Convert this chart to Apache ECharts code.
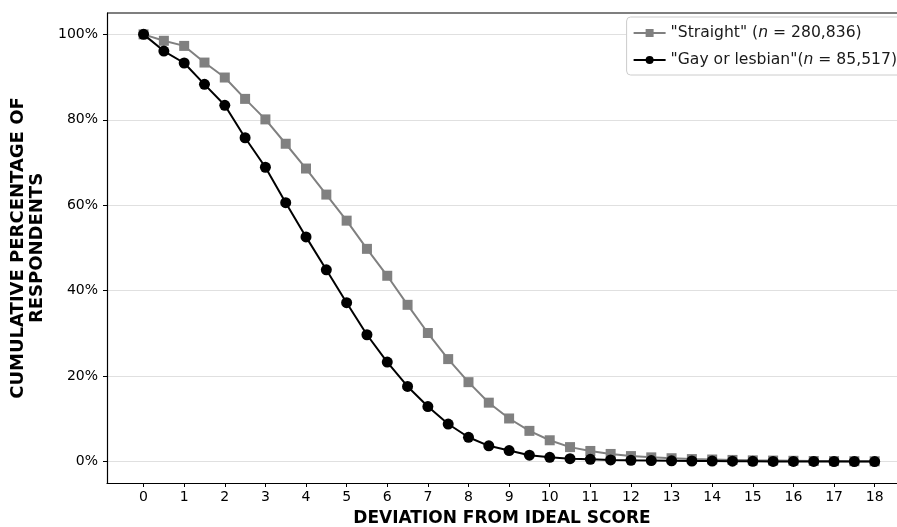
<!DOCTYPE html>
<html>
<head>
<meta charset="utf-8">
<script src="https://cdn.jsdelivr.net/npm/echarts@6/dist/echarts.min.js"></script>
<style>
  html, body { margin: 0; padding: 0; background: #fff; }
  #chart { width: 897px; height: 527px; }
</style>
</head>
<body>
<div id="chart"></div>
<script>
// deviation scores 0..18 in half steps
var scores = [0, 0.5, 1, 1.5, 2, 2.5, 3, 3.5, 4, 4.5, 5, 5.5, 6, 6.5, 7, 7.5, 8, 8.5, 9,
  9.5, 10, 10.5, 11, 11.5, 12, 12.5, 13, 13.5, 14, 14.5, 15, 15.5, 16, 16.5, 17, 17.5, 18];

// cumulative % of respondents
var straight = [100, 98.5, 97.3, 93.4, 89.9, 84.9, 80.1, 74.4, 68.6, 62.5, 56.4, 49.8, 43.5,
  36.7, 30.1, 24.0, 18.6, 13.8, 10.1, 7.2, 5.0, 3.4, 2.5, 1.8, 1.3, 1.0, 0.8, 0.6, 0.5,
  0.4, 0.3, 0.25, 0.2, 0.15, 0.12, 0.1, 0.08];
var gay = [100, 96.1, 93.3, 88.3, 83.4, 75.8, 68.9, 60.6, 52.6, 44.9, 37.2, 29.7, 23.3,
  17.6, 12.9, 8.8, 5.7, 3.7, 2.6, 1.5, 1.0, 0.7, 0.55, 0.4, 0.3, 0.25, 0.2, 0.15, 0.12,
  0.1, 0.08, 0.06, 0.05, 0.04, 0.03, 0.03, 0.02];

var xTicks = [0, 1, 2, 3, 4, 5, 6, 7, 8, 9, 10, 11, 12, 13, 14, 15, 16, 17, 18];
var yTicks = [0, 20, 40, 60, 80, 100];

var seriesNames = ['straight', 'gay'];
var legendText = {
  straight: '{t|"Straight" (}{i|n}{t| = 280,836)}',
  gay: '{t|"Gay or lesbian"(}{i|n}{t| = 85,517)}'
};

function pairs(vals) {
  return scores.map(function (s, i) { return [s, vals[i]]; });
}

var chart = echarts.init(document.getElementById('chart'));

var font = 'DejaVu Sans';

var option = {
  animation: false,
  grid: {
    left: 107,
    right: 0,
    top: 13,
    bottom: 44,
    outerBoundsMode: 'none',
    containLabel: false
  },
  legend: {
    right: -8,
    top: 17,
    orient: 'vertical',
    itemWidth: 32,
    itemHeight: 10,
    itemGap: 11,
    padding: [8, 8, 7, 6],
    backgroundColor: '#fff',
    borderColor: '#ccc',
    borderWidth: 1,
    borderRadius: 4,
    formatter: function (name) { return legendText[name]; },
    textStyle: {
      rich: {
        t: { fontFamily: font, fontSize: 15.6, color: '#1a1a1a' },
        i: { fontFamily: font, fontSize: 15.6, fontStyle: 'italic', color: '#1a1a1a' }
      }
    },
    data: seriesNames
  },
  xAxis: {
    type: 'value',
    min: -0.9,
    max: 18.55,
    name: 'DEVIATION FROM IDEAL SCORE',
    nameLocation: 'middle',
    nameGap: 27,
    nameTextStyle: { fontFamily: font, fontWeight: 'bold', fontSize: 17, color: '#000' },
    axisLine: { show: true, onZero: false, lineStyle: { color: '#000', width: 1.2 } },
    axisTick: { show: true, customValues: xTicks, length: 4, lineStyle: { color: '#000' } },
    axisLabel: { customValues: xTicks, fontFamily: font, fontSize: 14, color: '#000', margin: 7 },
    splitLine: { show: false }
  },
  yAxis: {
    type: 'value',
    min: -5,
    max: 105,
    name: 'CUMULATIVE PERCENTAGE OF\nRESPONDENTS',
    nameLocation: 'middle',
    nameGap: 55,
    nameTextStyle: { fontFamily: font, fontWeight: 'bold', fontSize: 18, color: '#000', lineHeight: 19 },
    axisLine: { show: true, onZero: false, lineStyle: { color: '#000', width: 1.2 } },
    axisTick: { show: true, customValues: yTicks, length: 4, lineStyle: { color: '#000' } },
    axisLabel: {
      customValues: yTicks,
      fontFamily: font, fontSize: 14, color: '#000', margin: 9,
      formatter: function (v) { return v + '%'; }
    },
    splitLine: { show: true, lineStyle: { color: '#e0e0e0', width: 1 } }
  },
  series: [
    {
      name: 'straight',
      type: 'line',
      data: pairs(straight),
      symbol: 'rect',
      symbolSize: 10,
      color: '#808080',
      lineStyle: { color: '#808080', width: 2 },
      itemStyle: { color: '#808080' },
      z: 2
    },
    {
      name: 'gay',
      type: 'line',
      data: pairs(gay),
      symbol: 'circle',
      symbolSize: 11,
      color: '#000',
      lineStyle: { color: '#000', width: 2 },
      itemStyle: { color: '#000' },
      z: 3
    }
  ]
};

chart.setOption(option);

// matplotlib-style top spine
chart.setOption({
  graphic: [{
    type: 'line',
    shape: { x1: 107, y1: 13, x2: 897, y2: 13 },
    style: { stroke: '#000', lineWidth: 1.2 }
  }]
});
</script>
</body>
</html>
